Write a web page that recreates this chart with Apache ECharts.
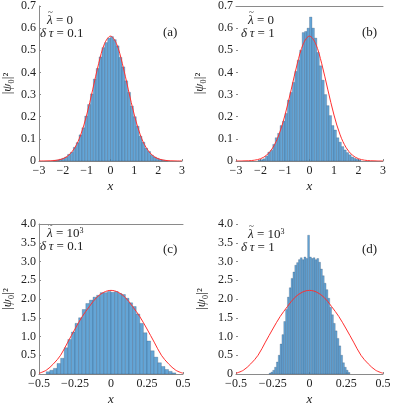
<!DOCTYPE html>
<html>
<head>
<meta charset="utf-8">
<script src="https://cdn.jsdelivr.net/npm/echarts@6/dist/echarts.min.js"></script>
<style>
  html, body { margin: 0; padding: 0; background: #fff; }
  #chart { width: 394px; height: 407px; }
</style>
</head>
<body>
<div id="chart"></div>
<script>
// histogram bins (centers) and heights
const binA = 0.12;
const xa = [-2.34,-2.22,-2.10,-1.98,-1.86,-1.74,-1.62,-1.50,-1.38,-1.26,-1.14,-1.02,-0.90,-0.78,-0.66,-0.54,-0.42,-0.30,-0.18,-0.06,
  0.06,0.18,0.30,0.42,0.54,0.66,0.78,0.90,1.02,1.14,1.26,1.38,1.50,1.62,1.74,1.86,1.98,2.10,2.22,2.34];
const ha = [0.003,0.004,0.008,0.012,0.018,0.030,0.040,0.062,0.083,0.118,0.150,0.203,0.255,0.303,0.370,0.418,0.470,0.512,0.535,0.555,
  0.562,0.548,0.520,0.468,0.425,0.362,0.310,0.248,0.200,0.157,0.112,0.085,0.058,0.043,0.026,0.018,0.012,0.007,0.004,0.002];

const binB = 0.1;
const xb = [-2.05,-1.95,-1.85,-1.75,-1.65,-1.55,-1.45,-1.35,-1.25,-1.15,-1.05,-0.95,-0.85,-0.75,-0.65,-0.55,-0.45,-0.35,-0.25,-0.15,-0.05,
  0.05,0.15,0.25,0.35,0.45,0.55,0.65,0.75,0.85,0.95,1.05,1.15,1.25,1.35,1.45,1.55,1.65,1.75,1.85,1.95,2.05];
const hb = [0.004,0.006,0.010,0.022,0.040,0.048,0.075,0.105,0.125,0.160,0.180,0.215,0.275,0.310,0.355,0.405,0.455,0.500,0.580,0.585,0.600,
  0.650,0.600,0.555,0.490,0.430,0.365,0.300,0.250,0.205,0.160,0.140,0.105,0.085,0.065,0.050,0.038,0.028,0.018,0.012,0.008,0.004];

const binC = 0.025;
const xc = [-0.4375,-0.4125,-0.3875,-0.3625,-0.3375,-0.3125,-0.2875,-0.2625,-0.2375,-0.2125,-0.1875,-0.1625,-0.1375,-0.1125,-0.0875,-0.0625,-0.0375,-0.0125,
  0.0125,0.0375,0.0625,0.0875,0.1125,0.1375,0.1625,0.1875,0.2125,0.2375,0.2625,0.2875,0.3125,0.3375,0.3625,0.3875,0.4125,0.4375];
const hc = [0.06,0.10,0.15,0.28,0.42,0.70,0.92,1.12,1.35,1.50,1.72,1.88,1.97,2.05,2.10,2.17,2.17,2.20,
  2.18,2.20,2.15,2.12,2.02,1.90,1.80,1.60,1.35,1.10,0.88,0.62,0.45,0.30,0.20,0.12,0.07,0.03];

const binD = 0.0125;
const xd = [-0.26875,-0.25625,-0.24375,-0.23125,-0.21875,-0.20625,-0.19375,-0.18125,-0.16875,-0.15625,-0.14375,-0.13125,-0.11875,-0.10625,-0.09375,-0.08125,-0.06875,-0.05625,-0.04375,-0.03125,-0.01875,-0.00625,
  0.00625,0.01875,0.03125,0.04375,0.05625,0.06875,0.08125,0.09375,0.10625,0.11875,0.13125,0.14375,0.15625,0.16875,0.18125,0.19375,0.20625,0.21875,0.23125,0.24375,0.25625,0.26875];
const hd = [0.02,0.05,0.10,0.18,0.32,0.50,0.80,1.05,1.40,1.72,2.05,2.30,2.55,2.72,2.90,2.97,3.05,3.10,3.05,3.12,3.08,3.70,
  3.12,3.08,3.10,3.05,3.08,2.98,2.80,2.62,2.42,2.25,2.02,1.78,1.58,1.35,1.15,0.95,0.75,0.50,0.30,0.18,0.10,0.04];

// red reference curves
const cxAB = [-3,-2.75,-2.5,-2.25,-2,-1.75,-1.5,-1.25,-1,-0.75,-0.5,-0.25,0,0.25,0.5,0.75,1,1.25,1.5,1.75,2,2.25,2.5,2.75,3];
const cyAB = [0.0001,0.0003,0.0011,0.0036,0.0103,0.0264,0.0595,0.118,0.2075,0.321,0.439,0.530,0.564,0.530,0.439,0.321,0.2075,0.118,0.0595,0.0264,0.0103,0.0036,0.0011,0.0003,0.0001];
const cxCD = [-0.5,-0.45,-0.4,-0.35,-0.3,-0.25,-0.2,-0.15,-0.1,-0.05,0,0.05,0.1,0.15,0.2,0.25,0.3,0.35,0.4,0.45,0.5];
const cyCD = [0.02,0.10,0.27,0.50,0.85,1.20,1.53,1.80,2.04,2.18,2.23,2.18,2.04,1.80,1.53,1.20,0.85,0.50,0.27,0.10,0.02];

// tick settings
const ticksAB = { xMin: -3, xMax: 3, xStep: 1, yMax: 0.7, yStep: 0.1 };
const ticksCD = { xMin: -0.5, xMax: 0.5, xStep: 0.25, yMax: 4, yStep: 0.5 };

const serif = "Liberation Serif";
const gray = '#8a8a8a';
const ink = '#222';

const panels = [
  { grid: { left: 33, top: 6, width: 149, height: 155 }, t: ticksAB, x: xa, h: ha, bin: binA, cx: cxAB, cy: cyAB, topLine: false, leftLine: true, nameGap: 25 },
  { grid: { left: 236, top: 6, width: 147, height: 155 }, t: ticksAB, x: xb, h: hb, bin: binB, cx: cxAB, cy: cyAB, topLine: true, leftLine: false, nameGap: 30 },
  { grid: { left: 33, top: 224, width: 150, height: 154 }, t: ticksCD, x: xc, h: hc, bin: binC, cx: cxCD, cy: cyCD, topLine: true, leftLine: true, nameGap: 25 },
  { grid: { left: 236, top: 224, width: 147, height: 154 }, t: ticksCD, x: xd, h: hd, bin: binD, cx: cxCD, cy: cyCD, topLine: false, leftLine: false, nameGap: 28 }
];

function fmtX(v) {
  if (v === 0) return '0';
  let s = String(Math.round(v * 100) / 100);
  return s.replace('-', '\u2212');
}
function fmtY(v) {
  if (v === 0) return '0';
  return v.toFixed(1);
}

const grid = [], xAxis = [], yAxis = [], series = [];
panels.forEach((p, i) => {
  grid.push(p.grid);
  xAxis.push({
    type: 'value', gridIndex: i, min: p.t.xMin, max: p.t.xMax, interval: p.t.xStep,
    name: 'x', nameLocation: 'middle', nameGap: 19,
    nameTextStyle: { fontFamily: serif, fontSize: 13, fontStyle: 'italic', color: ink },
    axisLine: { show: true, onZero: false, lineStyle: { color: gray, width: 1 } },
    axisTick: { show: true, inside: true, length: 2, lineStyle: { color: gray } },
    axisLabel: { fontFamily: serif, fontSize: 12, color: ink, margin: 4, formatter: fmtX },
    splitLine: { show: false }
  });
  yAxis.push({
    type: 'value', gridIndex: i, min: 0, max: p.t.yMax, interval: p.t.yStep,
    name: '|{i|\u03c8}\u2080|\u00b2', nameLocation: 'middle', nameRotate: 90, nameGap: p.nameGap,
    nameTextStyle: {
      fontFamily: serif, fontSize: 13, color: ink,
      rich: { i: { fontFamily: serif, fontSize: 13, fontStyle: 'italic', color: ink } }
    },
    axisLine: { show: p.leftLine, onZero: false, lineStyle: { color: gray, width: 1 } },
    axisTick: { show: true, inside: true, length: 2, lineStyle: { color: gray } },
    axisLabel: { fontFamily: serif, fontSize: 12, color: ink, margin: 3, formatter: fmtY },
    splitLine: { show: false }
  });
  // histogram bars
  series.push({
    type: 'custom', xAxisIndex: i, yAxisIndex: i,
    data: p.x.map((c, k) => [c - p.bin / 2, c + p.bin / 2, p.h[k]]),
    encode: { x: [0, 1], y: 2 },
    renderItem: function (params, api) {
      const a = api.coord([api.value(0), api.value(2)]);
      const b = api.coord([api.value(1), 0]);
      return {
        type: 'rect',
        shape: { x: a[0], y: a[1], width: b[0] - a[0], height: b[1] - a[1] },
        style: { fill: '#64a5d6', stroke: 'rgba(30,55,85,0.45)', lineWidth: 0.5 }
      };
    },
    z: 2
  });
  // red curve
  series.push({
    type: 'line', xAxisIndex: i, yAxisIndex: i,
    data: p.cx.map((c, k) => [c, p.cy[k]]),
    showSymbol: false, smooth: 0.35,
    lineStyle: { color: '#ff3030', width: 1 },
    z: 3
  });
});

// top frame lines on panels (b) and (c)
panels.forEach((p, i) => {
  if (!p.topLine) return;
  xAxis.push({
    type: 'value', gridIndex: i, position: 'top', min: p.t.xMin, max: p.t.xMax,
    axisLine: { show: true, onZero: false, lineStyle: { color: gray, width: 1 } },
    axisTick: { show: false }, axisLabel: { show: false }, splitLine: { show: false }
  });
});

// panel annotations
const notes = [
  { x: 47, y: 21, l: '0', d: '0.1', tag: '(a)', tx: 163, ty: 33 },
  { x: 248, y: 21, l: '0', d: '1', tag: '(b)', tx: 362, ty: 33 },
  { x: 47, y: 234, l: '10', d: '0.1', tag: '(c)', tx: 163, ty: 250 },
  { x: 248, y: 235, l: '10', d: '1', tag: '(d)', tx: 362, ty: 250 }
];
const rich = {
  i: { fontFamily: serif, fontSize: 13, fontStyle: 'italic', fill: ink },
  sup: { fontFamily: serif, fontSize: 8, fill: ink, verticalAlign: 'top', padding: [0, 0, 6, 0] }
};
const graphic = [];
notes.forEach(n => {
  graphic.push({
    type: 'text', x: n.x, y: n.y,
    style: { text: '{i|\u03bb} = ' + n.l + (n.l === '10' ? '{sup|3}' : ''), fontFamily: serif, fontSize: 13, fill: ink, verticalAlign: 'middle', rich: rich }
  });
  // tilde above lambda
  graphic.push({
    type: 'text', x: n.x + 1, y: n.y - 8,
    style: { text: '~', fontFamily: serif, fontSize: 9, fill: ink, verticalAlign: 'middle' }
  });
  graphic.push({
    type: 'text', x: n.x - 7, y: n.y + 13,
    style: { text: '{i|\u03b4\u2009\u03c4} = ' + n.d, fontFamily: serif, fontSize: 13, fill: ink, verticalAlign: 'middle', rich: rich }
  });
  graphic.push({
    type: 'text', x: n.tx, y: n.ty,
    style: { text: n.tag, fontFamily: serif, fontSize: 13, fill: ink, verticalAlign: 'middle' }
  });
});

const chart = echarts.init(document.getElementById('chart'), null, { renderer: 'canvas' });
chart.setOption({
  animation: false,
  backgroundColor: '#fff',
  grid: grid,
  xAxis: xAxis,
  yAxis: yAxis,
  series: series,
  graphic: graphic
});
</script>
</body>
</html>
